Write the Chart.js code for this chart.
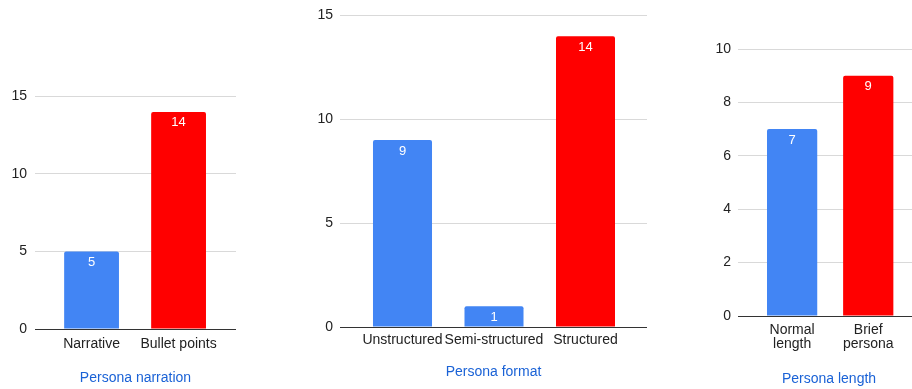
<!DOCTYPE html>
<html lang="en">
<head>
  <meta charset="UTF-8" />
  <title>Persona charts</title>
  <script src="https://cdn.jsdelivr.net/npm/chart.js"></script>
  <style>
    html, body { margin: 0; padding: 0; background: #fff; }
    body { width: 912px; height: 389px; position: relative; overflow: hidden; }
    .box { position: absolute; }
  </style>
</head>
<body>
  <div class="box" style="left:0; top:80px; width:236px; height:309px;"><canvas id="narration"></canvas></div>
  <div class="box" style="left:300px; top:0; width:347px; height:389px;"><canvas id="format"></canvas></div>
  <div class="box" style="left:700px; top:30px; width:220px; height:359px;"><canvas id="length"></canvas></div>

  <script>
    const narrationLabels = ['Narrative', 'Bullet points'];
    const narrationValues = [5, 14];
    const formatLabels = ['Unstructured', 'Semi-structured', 'Structured'];
    const formatValues = [9, 1, 14];
    const lengthLabels = [['Normal', 'length'], ['Brief', 'persona']];
    const lengthValues = [7, 9];

    const BLUE = '#4285f4';
    const RED = '#ff0000';
    const FONT = '"Liberation Sans", Arial, sans-serif';

    // white value inside the top of each bar
    const barLabels = {
      id: 'barLabels',
      afterDatasetsDraw(chart) {
        const ctx = chart.ctx;
        ctx.save();
        ctx.fillStyle = '#fff';
        ctx.font = '13px ' + FONT;
        ctx.textAlign = 'center';
        ctx.textBaseline = 'middle';
        chart.getDatasetMeta(0).data.forEach((bar, i) => {
          ctx.fillText(chart.data.datasets[0].data[i].y, bar.x, bar.y + 11);
        });
        ctx.restore();
      }
    };

    function makeChart(id, cfg) {
      new Chart(document.getElementById(id), {
        type: 'bar',
        data: {
          datasets: [{
            data: cfg.values.map((v, i) => ({ x: i, y: v })),
            backgroundColor: cfg.colors,
            borderRadius: 2,
            borderSkipped: 'start',
            barPercentage: cfg.barPct,
            categoryPercentage: 1
          }]
        },
        options: {
          responsive: true,
          maintainAspectRatio: false,
          animation: false,
          layout: { padding: { top: cfg.padTop, right: 0, bottom: 0, left: 0 } },
          plugins: { legend: { display: false }, tooltip: { enabled: false } },
          scales: {
            x: {
              type: 'linear',
              offset: false,
              min: cfg.xMin,
              max: cfg.xMax,
              grid: { display: false, drawTicks: false, offset: false },
              border: { display: false },
              afterBuildTicks: s => { s.ticks = cfg.labels.map((_, i) => ({ value: i })); },
              afterFit: s => { s.height = cfg.xHeight; },
              ticks: {
                autoSkip: false,
                maxRotation: 0,
                padding: cfg.xTickPad,
                color: '#222',
                font: { family: FONT, size: 14, lineHeight: 1 },
                callback: v => cfg.labels[v]
              },
              title: {
                display: true,
                text: cfg.title,
                color: '#1a62d6',
                font: { family: FONT, size: 14, lineHeight: 1.2 },
                padding: { top: 0, bottom: cfg.titlePad }
              }
            },
            y: {
              min: 0,
              max: cfg.yMax,
              border: { display: false },
              afterFit: s => { s.width = cfg.yWidth; },
              grid: {
                drawTicks: false,
                color: c => c.tick.value === 0 ? '#333' : '#d9d9d9'
              },
              ticks: {
                stepSize: cfg.yStep,
                padding: cfg.yTickPad,
                color: '#222',
                font: { family: FONT, size: 14 }
              }
            }
          }
        },
        plugins: [barLabels]
      });
    }

    makeChart('narration', {
      labels: narrationLabels, values: narrationValues, colors: [BLUE, RED],
      title: 'Persona narration', xMin: -0.65, xMax: 1.66, barPct: 0.63,
      yMax: 15, yStep: 5, yWidth: 35, yTickPad: 8,
      padTop: 16, xHeight: 60, xTickPad: 8, titlePad: 2.6
    });

    makeChart('format', {
      labels: formatLabels, values: formatValues, colors: [BLUE, BLUE, RED],
      title: 'Persona format', xMin: -0.683, xMax: 2.672, barPct: 0.645,
      yMax: 15, yStep: 5, yWidth: 40, yTickPad: 7,
      padTop: 15, xHeight: 62, xTickPad: 6, titlePad: 8.6
    });

    makeChart('length', {
      labels: lengthLabels, values: lengthValues, colors: [BLUE, RED],
      title: 'Persona length', xMin: -0.711, xMax: 1.68, barPct: 0.66,
      yMax: 10, yStep: 2, yWidth: 38, yTickPad: 7,
      padTop: 19, xHeight: 73, xTickPad: 7, titlePad: 1.6
    });
  </script>
</body>
</html>
